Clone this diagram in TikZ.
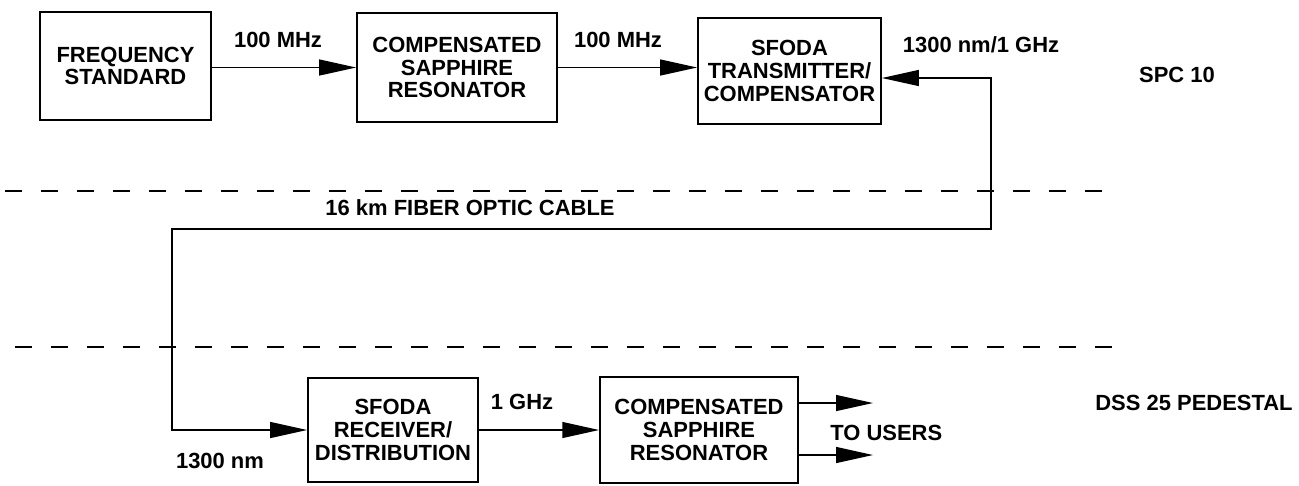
\documentclass[tikz,border=0pt]{standalone}
\usepackage{fontspec}
\setmainfont{Liberation Sans}
\usetikzlibrary{arrows.meta,positioning}
\tikzset{
  blk/.style={draw,line width=1pt,align=center,font=\fontsize{12.5}{13}\selectfont\bfseries},
  lbl/.style={font=\fontsize{12.5}{13}\selectfont\bfseries,inner sep=0pt},
  sig/.style={line width=1pt,-{Triangle[length=21pt,width=9pt]}},
  cable/.style={line width=1pt,{Triangle[length=21pt,width=9pt]}-{Triangle[length=21pt,width=9pt]}},
  zone/.style={line width=1.6pt,dash pattern=on 0.34cm off 0.38cm}
}
\begin{document}
\begin{tikzpicture}[x=0.02cm,y=-0.02cm]
\useasboundingbox (0,0) rectangle (1299,485);
% SPC 10 side
\node[blk,minimum width=3.42cm,minimum height=2.16cm] (fs) at (125.5,66) {FREQUENCY\\STANDARD};
\node[blk,minimum width=4cm,minimum height=2.18cm] (csr1) at (457,67.5) {COMPENSATED\\SAPPHIRE\\RESONATOR};
\node[blk,minimum width=3.66cm,minimum height=2.12cm] (tx) at (789.5,71) {SFODA\\TRANSMITTER/\\COMPENSATOR};
\draw[sig] (fs.east |- csr1) -- (csr1.west);
\draw[sig] (csr1.east) -- (csr1.east -| tx.west);
\node[lbl] at (278,40) {100 MHz};
\node[lbl] at (618,40) {100 MHz};
\node[lbl] at (981,45) {1300 nm/1 GHz};
\node[lbl] at (1177,75) {SPC 10};
% boundaries
\draw[zone] (5,191) -- (1110,191);
\draw[zone] (15,347) -- (1120,347);
% DSS 25 side
\node[blk,minimum width=3.4cm,minimum height=2.08cm] (rx) at (393,430) {SFODA\\RECEIVER/\\DISTRIBUTION};
\node[blk,minimum width=3.96cm,minimum height=2.12cm] (csr2) at (699,430) {COMPENSATED\\SAPPHIRE\\RESONATOR};
\draw[sig] (rx.east) -- (rx.east -| csr2.west);
% fiber link
\coordinate (ta) at (991,78);
\coordinate (fa) at (991,229);
\coordinate (fb) at (172,229);
\draw[cable] (ta -| tx.east) -- (ta) -- (fa) -- (fb) |- (rx.west);
\node[lbl,anchor=east] at (615,208) {16 km FIBER OPTIC CABLE};
\node[lbl] at (220,461) {1300 nm};
\node[lbl] at (522,402) {1 GHz};
% outputs
\coordinate (u1) at (873,403);
\coordinate (u2) at (873,455);
\draw[sig] (u1 -| csr2.east) -- (u1);
\draw[sig] (u2 -| csr2.east) -- (u2);
\node[lbl,anchor=west] at (830,433) {TO USERS};
\node[lbl,anchor=west] at (1095,403) {DSS 25 PEDESTAL};
\end{tikzpicture}
\end{document}
